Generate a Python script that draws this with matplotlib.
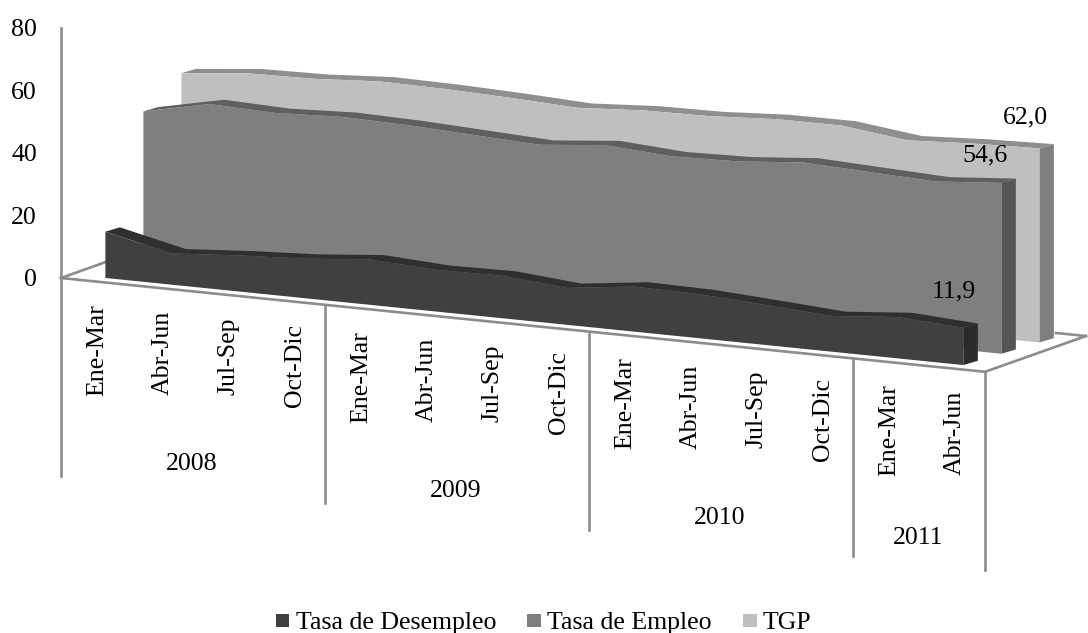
import numpy as np
import matplotlib
matplotlib.use("Agg")
import matplotlib.pyplot as plt

plt.rcParams['font.family'] = ['Liberation Serif', 'DejaVu Serif']

quarters = ["Ene-Mar", "Abr-Jun", "Jul-Sep", "Oct-Dic"] * 3 + ["Ene-Mar", "Abr-Jun"]
years = ["2008", "2009", "2010", "2011"]
year_edges = [0, 4, 8, 12, 14]
y_ticks = [0, 20, 40, 60, 80]

names = ["Tasa de Desempleo", "Tasa de Empleo", "TGP"]
desempleo = [14.8, 10.0, 11.5, 12.6, 14.5, 13.3, 13.6, 11.8, 14.4, 14.1, 12.8, 11.4, 13.2, 11.9]
empleo = [49.6, 54.1, 53.4, 54.3, 53.8, 52.8, 51.8, 53.8, 52.4, 52.9, 54.7, 53.8, 52.9, 54.6]
tgp = [58.2, 60.3, 60.7, 62.0, 61.7, 61.0, 60.0, 61.3, 61.6, 62.8, 62.9, 60.3, 61.4, 62.0]
series = [desempleo, empleo, tgp]

front_colors = ["#404040", "#7f7f7f", "#bfbfbf"]
top_colors = ["#2f2f2f", "#5f5f5f", "#8f8f8f"]
side_colors = ["#2b2b2b", "#555555", "#7f7f7f"]
axis_color = "#8c8c8c"
FONT = 18.6
LW = 1.9


def project(i, v, d=0.0):
    # oblique view of the 3D area chart: slot, value, depth -> pixels
    i = np.asarray(i, dtype=float)
    v = np.asarray(v, dtype=float)
    x = 61 + 66.0 * i + 38.0 * d
    y = 278 + 6.7 * i - 3.13 * v - 11.3 * d
    return x, y


fig = plt.figure(figsize=(10.88, 6.33), dpi=100)
ax = fig.add_axes([0, 0, 1, 1])
ax.set_xlim(0, 1088)
ax.set_ylim(633, 0)
ax.axis("off")

# floor and axes
fx, fy = project(np.array([0, 14]), np.array([0, 0]))
ax.plot(fx, fy, color=axis_color, lw=LW, zorder=1)
ax.plot([fx[0], fx[0] + 101], [fy[0], fy[0] - 36], color=axis_color, lw=LW, zorder=1)
ax.plot([fx[1], 1086], [fy[1], 336], color=axis_color, lw=LW, zorder=1)
ax.plot([1086, 1056], [336, 333], color=axis_color, lw=LW, zorder=1)
tx, ty = project(0, max(y_ticks))
ax.plot([fx[0], tx], [fy[0], ty], color=axis_color, lw=LW, zorder=1)

for t in y_ticks:
    _, yy = project(0, t)
    ax.text(37, yy + 2.5, str(t), ha="right", va="center", fontsize=FONT)

# series, back to front
slots = np.arange(len(desempleo)) + 0.5
for k in [2, 1, 0]:
    vals = np.array(series[k])
    d0 = 0.3 + k
    d1 = d0 + 0.38
    zero = np.zeros_like(vals)
    x0, y0 = project(slots, vals, d0)
    xb, yb = project(slots, zero, d0)
    x1, y1 = project(slots, vals, d1)
    xb1, yb1 = project(slots, zero, d1)
    z = 2 + (2 - k)
    # side face at the last point
    ax.fill([x0[-1], x1[-1], xb1[-1], xb[-1]], [y0[-1], y1[-1], yb1[-1], yb[-1]],
            color=side_colors[k], lw=0, zorder=z)
    # top band
    ax.fill(np.r_[x0, x1[::-1]], np.r_[y0, y1[::-1]], color=top_colors[k], lw=0, zorder=z)
    # front face
    ax.fill(np.r_[x0, xb[::-1]], np.r_[y0, yb[::-1]], color=front_colors[k], lw=0, zorder=z)

# data labels on the last point
label_offsets = [(-10, -36), (-16, -27), (-14, -31)]
for k in range(3):
    x0, y0 = project(slots[-1], series[k][-1], 0.3 + k)
    txt = f"{series[k][-1]:.1f}".replace(".", ",")
    ax.text(x0 + label_offsets[k][0], y0 + label_offsets[k][1], txt,
            ha="center", va="center", fontsize=FONT, zorder=10)

# quarter labels
for n, q in enumerate(quarters):
    x0, y0 = project(n + 0.5, 0)
    ax.text(x0 + 3, y0 + 22.5, q, rotation=90, ha="center", va="top", fontsize=FONT)

# year dividers and labels
for e in year_edges:
    x0, y0 = project(e, 0)
    ax.plot([x0, x0], [y0, y0 + 198], color=axis_color, lw=LW, zorder=1)
for n, yr in enumerate(years):
    mid = (year_edges[n] + year_edges[n + 1]) / 2
    x0, y0 = project(mid, 0)
    ax.text(x0 - 1, y0 + 173, yr, ha="center", va="center", fontsize=FONT)

# legend
legend_x = [275.5, 527, 743]
for lx, c, nm in zip(legend_x, front_colors, names):
    ax.fill([lx, lx + 13.5, lx + 13.5, lx], [614, 614, 627, 627], color=c, lw=0)
    ax.text(lx + 20, 629, nm, ha="left", va="baseline", fontsize=FONT)

fig.savefig("out.png", dpi=100)
